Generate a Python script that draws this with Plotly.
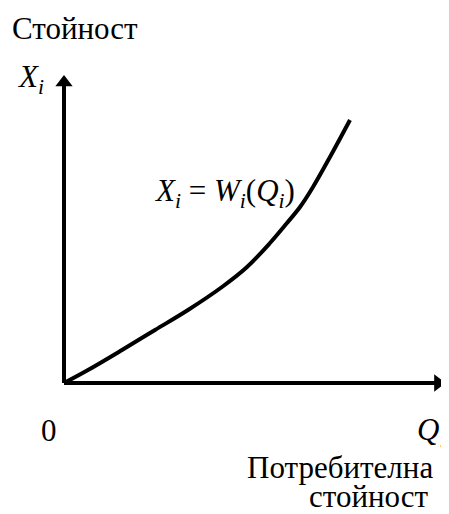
import plotly.graph_objects as go

# Curve X_i = W_i(Q_i) (arbitrary units)
q_values = [0.0, 0.632, 1.526, 2.395, 3.263, 4.158, 4.816, 5.421, 5.868, 6.211, 6.553, 7.0, 7.526]
x_values = [0.0, 0.422, 1.071, 1.721, 2.370, 3.117, 3.766, 4.545, 5.195, 5.714, 6.364, 7.338, 8.539]

# Axis extents (arrow tips)
Q_MAX = 10.08
X_MAX = 10.0

title_y = "Стойност"
label_y = "<i>X<sub>i</sub></i>"
label_x = "<i>Q<sub>i</sub></i>"
label_x_line1 = "Потребителна"
label_x_line2 = "стойност"
label_origin = "0"
formula = "<i>X<sub>i</sub></i> = <i>W<sub>i</sub></i>(<i>Q<sub>i</sub></i>)"

PAGE_OFF = 8              # page body margin
W, H = 449 - PAGE_OFF, 514 - PAGE_OFF
OX, OY = 64 - PAGE_OFF, 383 - PAGE_OFF   # origin pixel inside figure
SX, SY = 38.0, 30.8       # px per unit

FONT = "Liberation Serif"
FS = 31

def px(x):
    return (x - PAGE_OFF) / W

def py(y):
    return 1 - (y - PAGE_OFF) / H

fig = go.Figure()

# axes lines
fig.add_trace(go.Scatter(x=[0, 0], y=[0, X_MAX - 0.3], mode="lines",
                         line=dict(color="black", width=4), hoverinfo="skip"))
fig.add_trace(go.Scatter(x=[0, Q_MAX - 0.3], y=[0, 0], mode="lines",
                         line=dict(color="black", width=4), hoverinfo="skip"))
# arrow heads
fig.add_trace(go.Scatter(x=[0], y=[X_MAX - 0.24], mode="markers",
                         marker=dict(symbol="triangle-up", size=15, color="black"),
                         hoverinfo="skip"))
fig.add_trace(go.Scatter(x=[Q_MAX - 0.24], y=[0], mode="markers",
                         marker=dict(symbol="triangle-right", size=15, color="black"),
                         hoverinfo="skip"))
# curve
fig.add_trace(go.Scatter(x=q_values, y=x_values, mode="lines",
                         line=dict(color="black", width=4, shape="spline", smoothing=1.0),
                         hoverinfo="skip"))

def ann(text, x, y, xanchor="left", yanchor="middle"):
    fig.add_annotation(text=text, x=px(x), y=py(y), xref="paper", yref="paper",
                       xanchor=xanchor, yanchor=yanchor, showarrow=False,
                       font=dict(family=FONT, size=FS, color="black"))

ann(title_y, 10, 29)
ann(label_y, 15, 79)
ann(formula, 152, 193)
ann(label_origin, 39, 430)
ann(label_x, 415, 432)
ann(label_x_line1, 435, 467, xanchor="right")
ann(label_x_line2, 431, 496, xanchor="right")

fig.update_layout(
    width=W, height=H,
    margin=dict(l=0, r=0, t=0, b=0),
    paper_bgcolor="white", plot_bgcolor="white",
    showlegend=False,
    font=dict(family=FONT, color="black"),
    xaxis=dict(range=[-OX / SX, (W - OX) / SX], visible=False, fixedrange=True),
    yaxis=dict(range=[-(H - OY) / SY, OY / SY], visible=False, fixedrange=True),
)

fig.write_html("out.html")
